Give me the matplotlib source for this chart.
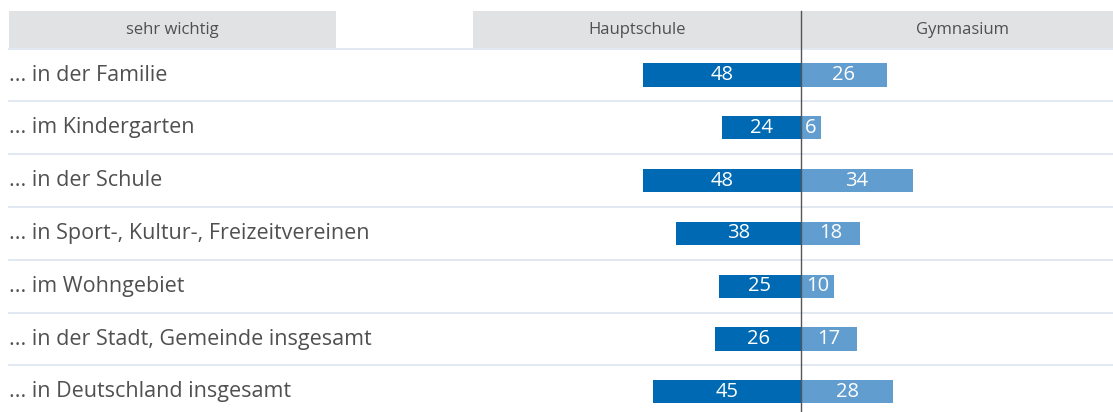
import matplotlib
matplotlib.use("Agg")
import matplotlib.pyplot as plt

# values (percent "sehr wichtig")
labels = ["... in der Familie", "... im Kindergarten", "... in der Schule",
          "... in Sport-, Kultur-, Freizeitvereinen", "... im Wohngebiet",
          "... in der Stadt, Gemeinde insgesamt", "... in Deutschland insgesamt"]
hauptschule = [48, 24, 48, 38, 25, 26, 45]
gymnasium = [26, 6, 34, 18, 10, 17, 28]
headers = ["sehr wichtig", "Hauptschule", "Gymnasium"]

DARK = "#0069b4"
LIGHT = "#619dcf"
GREY_BG = "#e1e2e4"
SEP = "#dde4f0"
TXT = "#505050"

W, H = 1113, 412
PX = 3.29          # pixels per percent
CX = 801           # centre line in pixels
ROW0, ROWH = 75, 52.8

plt.rcParams['font.family'] = ['Open Sans', 'DejaVu Sans']
fig = plt.figure(figsize=(W / 100, H / 100), dpi=100)
ax = fig.add_axes([0, 0, 1, 1])
ax.set_xlim(-CX / PX, (W - CX) / PX)
ax.set_ylim((H - ROW0) / ROWH, -ROW0 / ROWH)
ax.axis('off')

def px_x(p):
    return (p - CX) / PX

n = len(labels)
y = list(range(n))

# header bands
top, bot = -1.21, -0.51
ax.fill_between([px_x(9), px_x(336)], top, bot, color=GREY_BG, lw=0)
ax.fill_between([px_x(473), px_x(W)], top, bot, color=GREY_BG, lw=0)
hy = (top + bot) / 2
ax.text(px_x(172), hy, headers[0], ha='center', va='center', fontsize=12, color=TXT)
ax.text(px_x(637), hy, headers[1], ha='center', va='center', fontsize=12, color=TXT)
ax.text(px_x(963), hy, headers[2], ha='center', va='center', fontsize=12, color=TXT)

# row separators
for k in range(n):
    ax.plot([px_x(9), px_x(W)], [k - 0.5, k - 0.5], color=SEP, lw=1.2, zorder=1)

ax.barh(y, [-v for v in hauptschule], height=0.44, color=DARK, zorder=2)
ax.barh(y, gymnasium, height=0.44, color=LIGHT, zorder=2)

for i in y:
    ax.text(px_x(9), i, labels[i], ha='left', va='center', fontsize=15.5, color=TXT)
    ax.text(-hauptschule[i] / 2, i, str(hauptschule[i]), ha='center', va='center',
            fontsize=14.5, color='white', zorder=3)
    ax.text(gymnasium[i] / 2, i, str(gymnasium[i]), ha='center', va='center',
            fontsize=14.5, color='white', zorder=3)

ax.plot([0, 0], [top, (H - ROW0) / ROWH], color='#555555', lw=1, zorder=4)

fig.savefig("out.png", dpi=100)
